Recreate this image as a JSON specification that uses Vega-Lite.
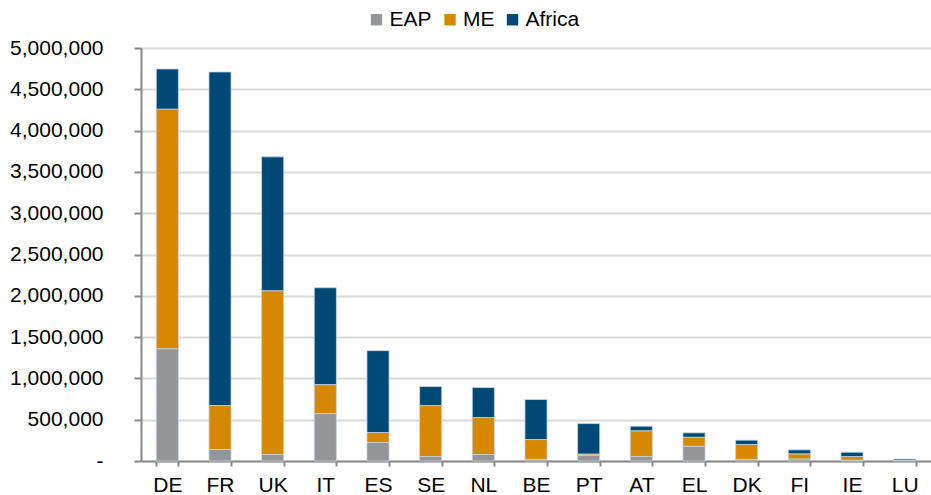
{
  "$schema": "https://vega.github.io/schema/vega-lite/v6.json",
  "width": 790,
  "height": 413,
  "autosize": {"type": "none"},
  "padding": {"left": 141, "top": 48, "right": 0, "bottom": 34},
  "background": "white",
  "config": {
    "view": {"stroke": null},
    "font": "Liberation Sans",
    "axis": {"labelFont": "Liberation Sans", "labelColor": "#000000", "labelFontSize": 21},
    "legend": {"labelFont": "Liberation Sans", "labelFontSize": 21, "labelColor": "#000000"}
  },
  "data": {
    "values": [
      {"country": "DE", "region": "EAP", "k": 1, "value": 1360000},
      {"country": "DE", "region": "ME", "k": 2, "value": 2900000},
      {"country": "DE", "region": "Africa", "k": 3, "value": 486000},
      {"country": "FR", "region": "EAP", "k": 1, "value": 139000},
      {"country": "FR", "region": "ME", "k": 2, "value": 532000},
      {"country": "FR", "region": "Africa", "k": 3, "value": 4039000},
      {"country": "UK", "region": "EAP", "k": 1, "value": 79000},
      {"country": "UK", "region": "ME", "k": 2, "value": 1983000},
      {"country": "UK", "region": "Africa", "k": 3, "value": 1620000},
      {"country": "IT", "region": "EAP", "k": 1, "value": 574000},
      {"country": "IT", "region": "ME", "k": 2, "value": 351000},
      {"country": "IT", "region": "Africa", "k": 3, "value": 1173000},
      {"country": "ES", "region": "EAP", "k": 1, "value": 224000},
      {"country": "ES", "region": "ME", "k": 2, "value": 121000},
      {"country": "ES", "region": "Africa", "k": 3, "value": 991000},
      {"country": "SE", "region": "EAP", "k": 1, "value": 54000},
      {"country": "SE", "region": "ME", "k": 2, "value": 617000},
      {"country": "SE", "region": "Africa", "k": 3, "value": 230000},
      {"country": "NL", "region": "EAP", "k": 1, "value": 79000},
      {"country": "NL", "region": "ME", "k": 2, "value": 447000},
      {"country": "NL", "region": "Africa", "k": 3, "value": 363000},
      {"country": "BE", "region": "EAP", "k": 1, "value": 20000},
      {"country": "BE", "region": "ME", "k": 2, "value": 240000},
      {"country": "BE", "region": "Africa", "k": 3, "value": 484000},
      {"country": "PT", "region": "EAP", "k": 1, "value": 70000},
      {"country": "PT", "region": "ME", "k": 2, "value": 15000},
      {"country": "PT", "region": "Africa", "k": 3, "value": 368000},
      {"country": "AT", "region": "EAP", "k": 1, "value": 55000},
      {"country": "AT", "region": "ME", "k": 2, "value": 311000},
      {"country": "AT", "region": "Africa", "k": 3, "value": 55000},
      {"country": "EL", "region": "EAP", "k": 1, "value": 179000},
      {"country": "EL", "region": "ME", "k": 2, "value": 109000},
      {"country": "EL", "region": "Africa", "k": 3, "value": 53000},
      {"country": "DK", "region": "EAP", "k": 1, "value": 20000},
      {"country": "DK", "region": "ME", "k": 2, "value": 180000},
      {"country": "DK", "region": "Africa", "k": 3, "value": 52000},
      {"country": "FI", "region": "EAP", "k": 1, "value": 25000},
      {"country": "FI", "region": "ME", "k": 2, "value": 62000},
      {"country": "FI", "region": "Africa", "k": 3, "value": 48000},
      {"country": "IE", "region": "EAP", "k": 1, "value": 10000},
      {"country": "IE", "region": "ME", "k": 2, "value": 44000},
      {"country": "IE", "region": "Africa", "k": 3, "value": 52000},
      {"country": "LU", "region": "EAP", "k": 1, "value": 6000},
      {"country": "LU", "region": "ME", "k": 2, "value": 4000},
      {"country": "LU", "region": "Africa", "k": 3, "value": 14000}
    ]
  },
  "mark": {"type": "bar", "stroke": "#c9d5de", "strokeWidth": 1, "strokeOpacity": 0.8},
  "encoding": {
    "x": {
      "field": "country",
      "type": "nominal",
      "sort": null,
      "scale": {"paddingInner": 0.58, "paddingOuter": 0.29},
      "axis": {
        "title": null,
        "labelAngle": 0,
        "domainColor": "#898989",
        "domainWidth": 2,
        "tickColor": "#898989",
        "tickWidth": 2,
        "tickSize": 5,
        "tickBand": "extent",
        "labelPadding": 8,
        "grid": false
      }
    },
    "y": {
      "field": "value",
      "type": "quantitative",
      "stack": "zero",
      "scale": {"domain": [0, 5000000], "nice": false},
      "axis": {
        "title": null,
        "values": [0, 500000, 1000000, 1500000, 2000000, 2500000, 3000000, 3500000, 4000000, 4500000, 5000000],
        "labelExpr": "datum.value == 0 ? '-' : format(datum.value, ',')",
        "domainColor": "#898989",
        "domainWidth": 2,
        "tickColor": "#898989",
        "tickWidth": 2,
        "tickSize": 7,
        "labelPadding": 31,
        "grid": true,
        "gridColor": "#d9d9d9",
        "gridWidth": 2
      }
    },
    "color": {
      "field": "region",
      "type": "nominal",
      "scale": {"domain": ["EAP", "ME", "Africa"], "range": ["#939598", "#d68800", "#004977"]},
      "legend": {
        "title": null,
        "orient": "none",
        "direction": "horizontal",
        "legendX": 225,
        "legendY": -39,
        "symbolType": "square",
        "symbolSize": 130,
        "symbolStrokeWidth": 0,
        "labelOffset": 2.5,
        "columnPadding": 7.5
      }
    },
    "order": {"field": "k", "type": "quantitative", "sort": "ascending"}
  }
}
